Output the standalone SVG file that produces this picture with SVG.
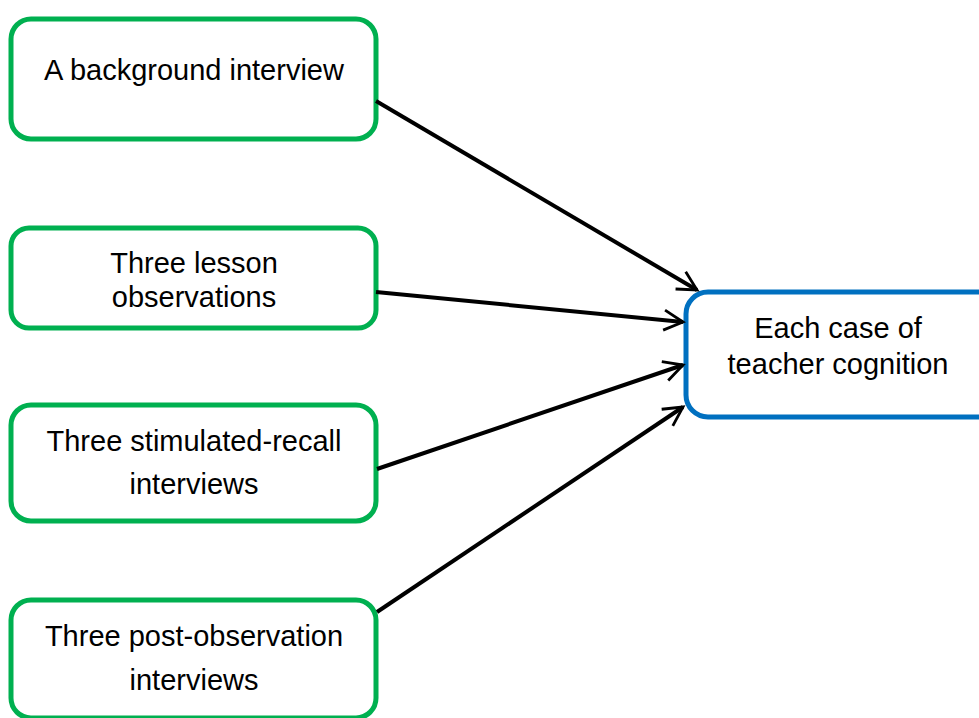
<svg xmlns="http://www.w3.org/2000/svg" width="979" height="718" viewBox="0 0 979 718">
  <defs>
    <style>
      .src rect { fill: #ffffff; stroke: #00B050; stroke-width: 5; }
      .dst rect { fill: #ffffff; stroke: #0070C0; stroke-width: 5; }
      text { font-family: "Liberation Sans", Arial, sans-serif; font-size: 29px; fill: #000000; text-anchor: middle; }
      .links line { stroke: #000000; stroke-width: 4; marker-end: url(#open); }
    </style>
    <marker id="open" viewBox="0 0 12 12" refX="10.5" refY="6" markerWidth="6" markerHeight="6" markerUnits="strokeWidth" orient="auto">
      <path d="M1,1 L10.5,6 L1,11" fill="none" stroke="#000000" stroke-width="1.4"/>
    </marker>
  </defs>
  <rect width="979" height="718" fill="#ffffff"/>

  <g id="background-interview" class="src">
    <rect x="11" y="19" width="365" height="120" rx="20"/>
    <text x="194" y="80">A background interview</text>
  </g>

  <g id="lesson-observations" class="src">
    <rect x="11" y="228" width="365" height="100" rx="18"/>
    <text x="194" y="273">Three lesson</text>
    <text x="194" y="307">observations</text>
  </g>

  <g id="stimulated-recall" class="src">
    <rect x="11" y="405" width="365" height="116" rx="20"/>
    <text x="194" y="451">Three stimulated-recall</text>
    <text x="194" y="494">interviews</text>
  </g>

  <g id="post-observation" class="src">
    <rect x="11" y="600" width="365" height="118" rx="20"/>
    <text x="194" y="646">Three post-observation</text>
    <text x="194" y="690">interviews</text>
  </g>

  <g id="teacher-cognition" class="dst">
    <rect x="686" y="292" width="320" height="125" rx="22"/>
    <text x="838" y="338">Each case of</text>
    <text x="838" y="374">teacher cognition</text>
  </g>

  <g class="links">
    <line x1="376" y1="101" x2="697" y2="290"/>
    <line x1="376" y1="292" x2="683" y2="322"/>
    <line x1="377" y1="469" x2="683" y2="365"/>
    <line x1="377" y1="612" x2="683" y2="407"/>
  </g>
</svg>
